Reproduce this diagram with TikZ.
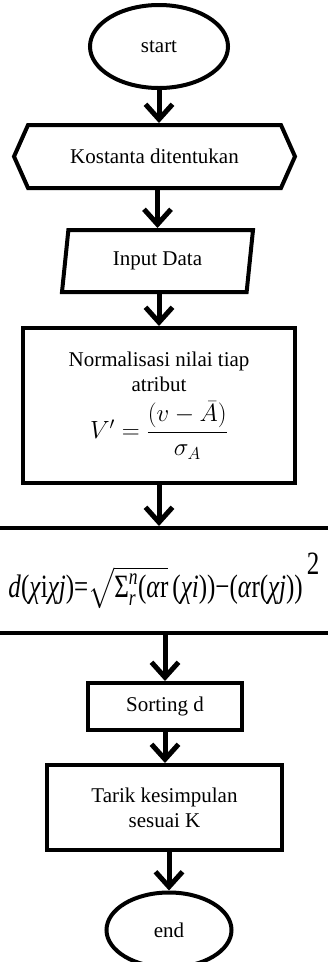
\documentclass[tikz,border=0pt]{standalone}
\usepackage{amsmath}
\usepackage{fontspec}
\setmainfont{Liberation Serif}
\usetikzlibrary{shapes.geometric,shapes.symbols,arrows.meta,positioning,calc}

\begin{document}
\begin{tikzpicture}[x=1pt,y=-1pt,font=\fontsize{21}{25}\selectfont,
  box/.style={draw,line width=4pt,align=center,inner sep=2pt},
  terminal/.style={box,ellipse},
  arr/.style={line width=5pt,-{Straight Barb[length=15pt,width=27pt]}}]

  \useasboundingbox (0,0) rectangle (328,962);
  \fill[white] (0,0) rectangle (328,962);

  \node[terminal,minimum width=138pt,minimum height=83pt] (start) at (159,46.5) {start};
  \node[box,signal,signal to=west and east,signal pointer angle=132,
        minimum width=281pt,minimum height=63pt] (kost) at (154.5,156.5) {Kostanta ditentukan};
  \node[box,trapezium,trapezium left angle=74,trapezium right angle=106,
        trapezium stretches body,minimum width=191pt,minimum height=62pt] (input) at (157.5,261) {Input Data};
  \node[box,rectangle,minimum width=272pt,minimum height=155pt] (norm) at (159,405.5)
    {Normalisasi nilai tiap\\atribut\\[9pt]
     {\fontsize{26}{30}\selectfont$V'=\dfrac{(v-\bar{A})}{\sigma_A}$}};
  \node[box,rectangle,minimum width=380pt,minimum height=105pt] (dist) at (164,580.5)
    {\resizebox*{311pt}{56pt}{\fontsize{24}{28}\selectfont\textit{d}(\textit{χ}i\textit{χj})=$\sqrt{\text{Σ}^{\textit{n}}_{\textit{r}}\text{(\textit{α}r}}$\,(\textit{χi}))−(\textit{α}r(\textit{χj}))\,\raisebox{17pt}{2}}};
  \node[box,rectangle,minimum width=154pt,minimum height=47pt] (sort) at (165,706.5) {Sorting d};
  \node[box,rectangle,minimum width=235pt,minimum height=85pt] (tarik) at (164.5,807.5)
    {Tarik kesimpulan\\sesuai K};
  \node[terminal,minimum width=125pt,minimum height=75pt] (end) at (169,930) {end};

  \draw[arr] (start.south) -- (start.south |- kost.north);
  \draw[arr] (input.north |- kost.south) -- (input.north);
  \draw[arr] (norm.north |- input.south) -- (norm.north);
  \draw[arr] (norm.south) -- (norm.south |- dist.north);
  \draw[arr] (sort.north |- dist.south) -- (sort.north);
  \draw[arr] (sort.south) -- (sort.south |- tarik.north);
  \draw[arr] (end.north |- tarik.south) -- (end.north);

\end{tikzpicture}
\end{document}
